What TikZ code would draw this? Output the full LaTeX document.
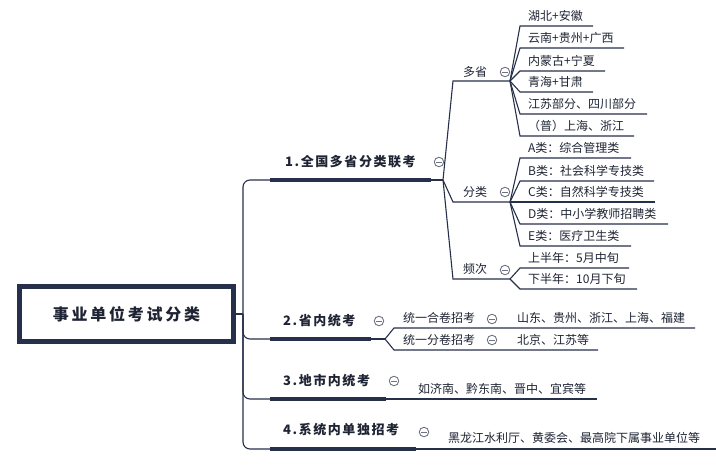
\documentclass[tikz,border=0pt]{standalone}
\usepackage{fontspec}
\setmainfont{Noto Sans CJK SC}
\definecolor{navy}{HTML}{27304A}
\definecolor{ink}{HTML}{1E2433}
\definecolor{tog}{HTML}{6E7482}
\tikzset{
  conn/.style={draw=navy, line width=1.1pt},
  bar/.style={draw=navy, line width=4.5pt},
  leaf/.style={anchor=west, inner sep=0pt, text=ink, font=\fontsize{12}{14}\selectfont},
  lvone/.style={anchor=west, inner sep=0pt, text=ink, font=\fontsize{13}{15}\selectfont\bfseries\addfontfeatures{LetterSpace=12}},
  tgl/.style={circle, draw=tog, line width=0.9pt, minimum size=9.5pt, inner sep=0pt,
    path picture={\draw[tog, line width=0.9pt] ([xshift=-2.6pt]path picture bounding box.center) -- ([xshift=2.6pt]path picture bounding box.center);}},
}
\begin{document}
\begin{tikzpicture}[x=1pt,y=-1pt]
\useasboundingbox (0,0) rectangle (716,464);
% root
\node[draw=navy, line width=5pt, minimum width=214pt, minimum height=55pt, inner sep=0pt, text=ink,
  font=\fontsize{16}{18}\selectfont\bfseries\addfontfeatures{LetterSpace=17}] (root) at (126.5,314) {事业单位考试分类};
% trunk coordinates
\coordinate (tj) at (243,314);
\coordinate (b1s) at (270,180); \coordinate (b1e) at (431,180); \coordinate (f1) at (443,180);
\coordinate (b2s) at (270,339); \coordinate (b2e) at (371,339); \coordinate (f2) at (385,339);
\coordinate (b3s) at (270,399); \coordinate (b3e) at (386,399); \coordinate (e3) at (597,399);
\coordinate (b4s) at (270,449); \coordinate (b4e) at (416,449); \coordinate (e4) at (716,449);
\draw[conn] (root.east) -- (tj);
\draw[conn, rounded corners=7pt] (b1s) -| (tj) |- (b4s);
\draw[conn, rounded corners=7pt] (tj) |- (b2s);
\draw[conn, rounded corners=7pt] (tj) |- (b3s);
\draw[bar] (b1s) -- (b1e); \draw[conn] (b1e) -- (f1);
\draw[bar] (b2s) -- (b2e); \draw[conn] (b2e) -- (f2);
\draw[bar] (b3s) -- (b3e); \draw[conn] (b3e) -- (e3);
\draw[bar] (b4s) -- (b4e); \draw[conn] (b4e) -- (e4);
% level 1 labels
\node[lvone] (n1) at (285,162) {1.全国多省分类联考};
\node[tgl] (t1) at (439,162) {};
\node[lvone] (n2) at (283,321) {2.省内统考};
\node[tgl] (t2) at (379,321) {};
\node[lvone] (n3) at (283,381) {3.地市内统考};
\node[tgl] (t3) at (394,381) {};
\node[lvone] (n4) at (283,430) {4.系统内单独招考};
\node[tgl] (t4) at (424,432) {};
% level 2 under 1
\coordinate (u1s) at (453,81);  \coordinate (u1e) at (510,81);
\coordinate (u2s) at (453,202); \coordinate (u2e) at (510,202);
\coordinate (u3s) at (453,279); \coordinate (u3e) at (510,279);
\draw[conn] (f1) -- (u1s) -- (u1e);
\draw[conn] (f1) -- (u2s) -- (u2e);
\draw[conn] (f1) -- (u3s) -- (u3e);
\node[leaf] (m1) at (463,72) {多省};   \node[tgl] (tm1) at (505,72) {};
\node[leaf] (m2) at (463,192) {分类};  \node[tgl] (tm2) at (505,192) {};
\node[leaf] (m3) at (463,269) {频次};  \node[tgl] (tm3) at (505,270) {};
% leaves of 多省
\foreach \y/\e/\t [count=\i] in {26/593/湖北+安徽, 48/624/云南+贵州+广西, 71/605/内蒙古+宁夏, 92/593/青海+甘肃, 114/647/江苏部分、四川部分, 136/634/（普）上海、浙江}{
  \coordinate (pa\i) at (520,\y); \coordinate (pb\i) at (\e,\y);
  \draw[conn] (u1e) -- (pa\i) -- (pb\i);
  \node[leaf] (pl\i) at (528,\y-10.5) {\t};
}
% leaves of 分类
\foreach \y/\e/\t [count=\i] in {158/631/A类：综合管理类, 181/654/B类：社会科学专技类, 202/655/C类：自然科学专技类, 224/668/D类：中小学教师招聘类, 246/631/E类：医疗卫生类}{
  \coordinate (ca\i) at (520,\y); \coordinate (cb\i) at (\e,\y);
  \draw[conn] (u2e) -- (ca\i) -- (cb\i);
  \node[leaf] (cl\i) at (528,\y-10.5) {\t};
}
% leaves of 频次
\foreach \y/\e/\t [count=\i] in {268/629/上半年：5月中旬, 289/637/下半年：10月下旬}{
  \coordinate (fa\i) at (520,\y); \coordinate (fb\i) at (\e,\y);
  \draw[conn] (u3e) -- (fa\i) -- (fb\i);
  \node[leaf] (fl\i) at (528,\y-10.5) {\t};
}
% level 2 under 2
\coordinate (s1s) at (394,328); \coordinate (s1e) at (695,328);
\coordinate (s2s) at (394,350); \coordinate (s2e) at (598,350);
\draw[conn] (f2) -- (s1s) -- (s1e);
\draw[conn] (f2) -- (s2s) -- (s2e);
\node[leaf] (s1) at (403,318) {统一合卷招考}; \node[tgl] (ts1) at (492,319) {};
\node[leaf] (s1l) at (517,318) {山东、贵州、浙江、上海、福建};
\node[leaf] (s2) at (403,340) {统一分卷招考}; \node[tgl] (ts2) at (492,340) {};
\node[leaf] (s2l) at (517,340) {北京、江苏等};
% leaves of 3 and 4
\node[leaf] (l3) at (418,389) {如济南、黔东南、晋中、宜宾等};
\node[leaf] (l4) at (448,438) {黑龙江水利厅、黄委会、最高院下属事业单位等};
\end{tikzpicture}
\end{document}
